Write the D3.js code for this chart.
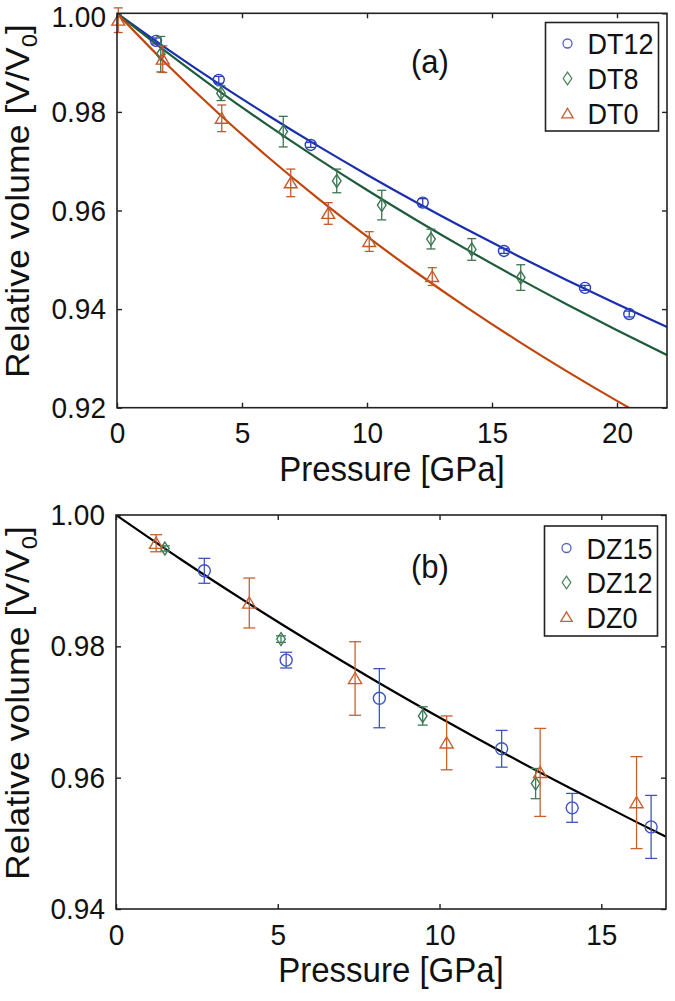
<!DOCTYPE html>
<html>
<head>
<meta charset="utf-8">
<script src="https://cdn.jsdelivr.net/npm/d3@7"></script>
<style>
body { margin: 0; background: #fff; }
svg text { font-family: "Liberation Sans", Arial, Helvetica, sans-serif; fill: #111; }
.sy { transform-box: fill-box; transform-origin: center; transform: scaleY(1.07); }
.sx { transform-box: fill-box; transform-origin: center; transform: scaleX(1.08); }
</style>
</head>
<body>
<svg id="fig"></svg>
<script>
// ---- panel (a) data ----
const dt12P = [1.56, 4.07, 7.75, 12.23, 15.48, 18.72, 20.49];
const dt12V = [0.9944, 0.9865, 0.9733, 0.9616, 0.9518, 0.9443, 0.9390];
const dt12E = [0.0006, 0.0007, 0.0005, 0.0008, 0.0005, 0.0005, 0.0006];

const dt8P = [1.75, 4.16, 6.65, 8.79, 10.59, 12.56, 14.19, 16.15];
const dt8V = [0.9917, 0.9838, 0.9760, 0.9660, 0.9611, 0.9542, 0.9521, 0.9464];
const dt8E = [0.0036, 0.0015, 0.0031, 0.0024, 0.0030, 0.0020, 0.0022, 0.0026];

const dt0P = [0.05, 1.83, 4.19, 6.95, 8.45, 10.09, 12.61];
const dt0V = [0.9986, 0.9907, 0.9787, 0.9656, 0.9594, 0.9537, 0.9466];
const dt0E = [0.0025, 0.0027, 0.0027, 0.0028, 0.0022, 0.0020, 0.0018];

// fitted EOS curves
const fitAP = [0, 2, 4, 6, 8, 10, 12, 14, 16, 18, 20, 22];
const fitDT12 = [1.0, 0.99279, 0.98594, 0.97942, 0.97320, 0.96726, 0.96157, 0.95613, 0.95089, 0.94586, 0.94102, 0.93635];
const fitDT8 = [1.0, 0.99206, 0.98454, 0.97741, 0.97062, 0.96415, 0.95797, 0.95206, 0.94639, 0.94095, 0.93572, 0.93069];
const fitDT0 = [1.0, 0.98961, 0.97997, 0.97100, 0.96261, 0.95474, 0.94732, 0.94031, 0.93367, 0.92738, 0.92139, 0.91567];

// ---- panel (b) data ----
const dz15P = [2.73, 5.26, 8.14, 11.92, 14.10, 16.54];
const dz15V = [0.9915, 0.9779, 0.9721, 0.9644, 0.9554, 0.9525];
const dz15E = [0.0019, 0.0012, 0.0045, 0.0028, 0.0022, 0.0048];

const dz12P = [1.51, 5.10, 9.48, 12.97];
const dz12V = [0.9949, 0.9811, 0.9694, 0.9591];
const dz12E = [0.0004, 0.0005, 0.0014, 0.0023];

const dz0P = [1.24, 4.12, 7.39, 10.22, 13.11, 16.09];
const dz0V = [0.9957, 0.9866, 0.9751, 0.9653, 0.9608, 0.9562];
const dz0E = [0.0013, 0.0038, 0.0056, 0.0041, 0.0067, 0.0070];

const fitBP = [0, 2, 4, 6, 8, 10, 12, 14, 16, 17];
const fitDZ = [1.0, 0.99326, 0.98684, 0.98069, 0.97480, 0.96915, 0.96371, 0.95849, 0.95346, 0.95100];

// ticks
const xTicksA = [0, 5, 10, 15, 20];
const yTicksA = [0.92, 0.94, 0.96, 0.98, 1.00];
const xTicksB = [0, 5, 10, 15];
const yTicksB = [0.94, 0.96, 0.98, 1.00];

const width = 675, height = 1001;
const svg = d3.select("#fig").attr("width", width).attr("height", height);

// marker shapes, relative to the point
function markerPath(kind, s) {
    if (kind === "circle") return `M${s},0A${s},${s} 0 1,1 ${-s},0A${s},${s} 0 1,1 ${s},0Z`;
    if (kind === "diamond") return `M0,${-s * 1.5}L${s},0L0,${s * 1.5}L${-s},0Z`;
    return `M0,${-s}L${s * 1.1},${s * 0.85}L${-s * 1.1},${s * 0.85}Z`;
}

function drawPanel(opt) {
    const x = d3.scaleLinear().domain(opt.xDomain).range(opt.xRange);
    const y = d3.scaleLinear().domain(opt.yDomain).range(opt.yRange);
    const g = svg.append("g");

    const clipId = "clip-" + opt.id;
    g.append("clipPath").attr("id", clipId)
     .append("rect")
     .attr("x", opt.xRange[0]).attr("y", opt.yRange[1])
     .attr("width", opt.xRange[1] - opt.xRange[0])
     .attr("height", opt.yRange[0] - opt.yRange[1]);

    // fit lines
    const line = d3.line().x(d => x(d[0])).y(d => y(d[1])).curve(d3.curveMonotoneX);
    opt.fits.forEach(f => {
        g.append("path")
         .attr("clip-path", `url(#${clipId})`)
         .attr("d", line(f.p.map((p, i) => [p, f.v[i]])))
         .attr("fill", "none")
         .attr("stroke", f.color)
         .attr("stroke-width", 2.2);
    });

    // error bars + markers
    opt.series.forEach(s => {
        const pts = s.p.map((p, i) => ({ p: p, v: s.v[i], e: s.e[i] }));
        const eb = g.append("g").attr("stroke", s.color).attr("stroke-width", 1.3).attr("fill", "none");
        pts.forEach(d => {
            const x0 = x(d.p), y1 = y(d.v + d.e), y2 = y(d.v - d.e);
            eb.append("line").attr("x1", x0).attr("x2", x0).attr("y1", y1).attr("y2", y2);
            eb.append("line").attr("x1", x0 - s.cap).attr("x2", x0 + s.cap).attr("y1", y1).attr("y2", y1);
            eb.append("line").attr("x1", x0 - s.cap).attr("x2", x0 + s.cap).attr("y1", y2).attr("y2", y2);
        });
        g.selectAll(null)
         .data(pts)
         .enter()
         .append("path")
         .attr("transform", d => `translate(${x(d.p)},${y(d.v)})`)
         .attr("d", markerPath(s.shape, s.size))
         .attr("fill", "none")
         .attr("stroke", s.color)
         .attr("stroke-width", 1.4);
    });

    // axes, ticks pointing inward on all four sides
    const yb = opt.yRange[0], yt = opt.yRange[1], xl = opt.xRange[0], xr = opt.xRange[1];
    const ax = g.append("g").attr("transform", `translate(0,${yb})`)
        .call(d3.axisBottom(x).tickValues(opt.xTicks).tickSizeInner(-5).tickSizeOuter(0).tickPadding(15).tickFormat(d3.format("d")));
    const ay = g.append("g").attr("transform", `translate(${xl},0)`)
        .call(d3.axisLeft(y).tickValues(opt.yTicks).tickSizeInner(-5).tickSizeOuter(0).tickPadding(11).tickFormat(d3.format(".2f")));
    g.append("g").attr("transform", `translate(0,${yt})`)
        .call(d3.axisTop(x).tickValues(opt.xTicks).tickSizeInner(-5).tickSizeOuter(0).tickFormat(""));
    g.append("g").attr("transform", `translate(${xr},0)`)
        .call(d3.axisRight(y).tickValues(opt.yTicks).tickSizeInner(-5).tickSizeOuter(0).tickFormat(""));
    g.selectAll(".domain").remove();
    g.selectAll(".tick line").attr("stroke", "#222").attr("stroke-width", 1.4);
    [ax, ay].forEach(a => a.selectAll("text")
        .attr("class", "sy")
        .style("font-size", "28px")
        .attr("fill", "#111"));
    // keep the top label inside the page
    ay.selectAll(".tick text")
      .filter(d => y(d) < 20)
      .attr("y", 20 - y(opt.yDomain[1]) > 0 ? 4 : 0);

    g.append("rect")
     .attr("x", xl).attr("y", yt)
     .attr("width", xr - xl).attr("height", yb - yt)
     .attr("fill", "none").attr("stroke", "#222").attr("stroke-width", 1.6);

    // axis titles
    g.append("text")
     .attr("class", "sy")
     .attr("x", (xl + xr) / 2).attr("y", yb + 72)
     .attr("text-anchor", "middle")
     .style("font-size", "33px")
     .text("Pressure [GPa]");

    const yl = g.append("g").attr("transform", `translate(29,${opt.yLabelY}) rotate(-90)`)
        .append("text").attr("class", "sx")
        .attr("text-anchor", "middle")
        .style("font-size", "33px");
    yl.append("tspan").text("Relative volume [V/V");
    yl.append("tspan").attr("dy", 8).style("font-size", "22px").text("0");
    yl.append("tspan").attr("dy", -8).text("]");

    // panel tag
    g.append("text")
     .attr("class", "sy")
     .attr("x", opt.tag.x).attr("y", opt.tag.y)
     .attr("text-anchor", "middle")
     .style("font-size", "31px")
     .text(opt.tag.text);

    // legend
    const L = opt.legend;
    g.append("rect")
     .attr("x", L.x).attr("y", L.y).attr("width", L.w).attr("height", L.h)
     .attr("fill", "#fff").attr("stroke", "#222").attr("stroke-width", 1.6);
    opt.series.forEach((s, i) => {
        const cy = L.y + L.first + i * L.step;
        g.append("path")
         .attr("transform", `translate(${L.x + 22},${cy})`)
         .attr("d", markerPath(s.shape, s.legendSize))
         .attr("fill", "none")
         .attr("stroke", s.legendColor)
         .attr("stroke-width", 1.3);
        g.append("text")
         .attr("class", "sy")
         .attr("x", L.x + 42).attr("y", cy + 10)
         .style("font-size", "27px")
         .text(s.name);
    });
}

drawPanel({
    id: "a",
    xDomain: [0, 22], xRange: [117, 667],
    yDomain: [0.92, 1.00], yRange: [407.7, 13.3],
    xTicks: xTicksA, yTicks: yTicksA,
    yLabelY: 201,
    tag: { text: "(a)", x: 430, y: 72 },
    legend: { x: 545.5, y: 22.5, w: 113, h: 108.5, first: 21, step: 35 },
    fits: [
        { p: fitAP, v: fitDT12, color: "#1a2fb0" },
        { p: fitAP, v: fitDT8, color: "#1f5c3c" },
        { p: fitAP, v: fitDT0, color: "#c0460e" }
    ],
    series: [
        { name: "DT12", p: dt12P, v: dt12V, e: dt12E, shape: "circle", size: 5.5, cap: 4.5, color: "#2a3fc0", legendColor: "#5565c4", legendSize: 4.5 },
        { name: "DT8", p: dt8P, v: dt8V, e: dt8E, shape: "diamond", size: 4.3, cap: 4.5, color: "#3c7552", legendColor: "#4f8563", legendSize: 4.3 },
        { name: "DT0", p: dt0P, v: dt0V, e: dt0E, shape: "triangle", size: 5.8, cap: 4.5, color: "#c4582a", legendColor: "#c46038", legendSize: 5.2 }
    ]
});

drawPanel({
    id: "b",
    xDomain: [0, 17], xRange: [116, 666],
    yDomain: [0.94, 1.00], yRange: [909, 515],
    xTicks: xTicksB, yTicks: yTicksB,
    yLabelY: 703,
    tag: { text: "(b)", x: 430, y: 577 },
    legend: { x: 544.5, y: 526, w: 113, h: 110, first: 22, step: 34.5 },
    fits: [
        { p: fitBP, v: fitDZ, color: "#000" }
    ],
    series: [
        { name: "DZ15", p: dz15P, v: dz15V, e: dz15E, shape: "circle", size: 6, cap: 6, color: "#4055c5", legendColor: "#5565c4", legendSize: 4.5 },
        { name: "DZ12", p: dz12P, v: dz12V, e: dz12E, shape: "diamond", size: 4.3, cap: 5, color: "#3e7b57", legendColor: "#4f8563", legendSize: 4.3 },
        { name: "DZ0", p: dz0P, v: dz0V, e: dz0E, shape: "triangle", size: 6, cap: 6, color: "#c9612f", legendColor: "#c46038", legendSize: 5.2 }
    ]
});
</script>
</body>
</html>
